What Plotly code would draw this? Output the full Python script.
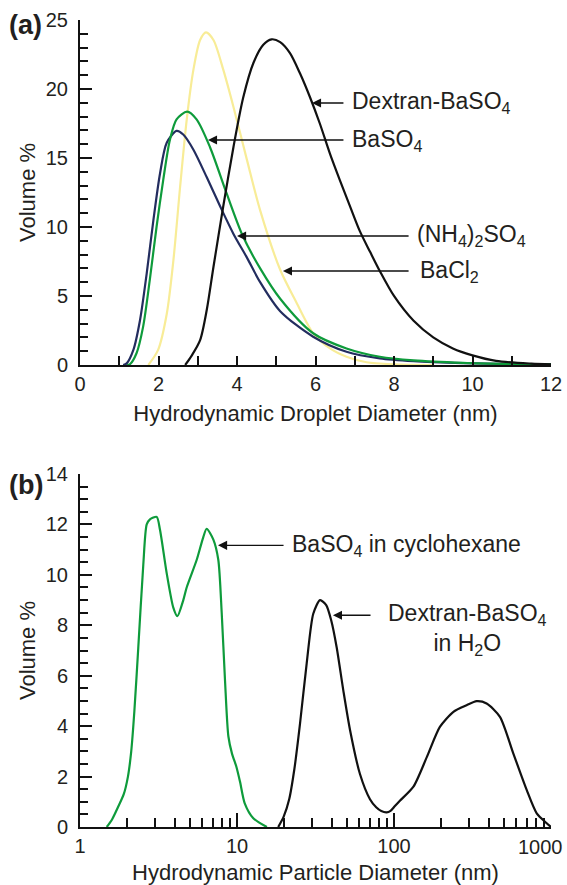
import plotly.graph_objects as go

# ---------------- Panel (a) data ----------------
nh4_x = [1.1, 1.19, 1.36, 1.53, 1.70, 1.87, 2.04, 2.21, 2.46, 2.63, 2.89, 3.23, 3.57, 3.91, 4.25, 4.59, 5.10, 5.94, 6.79, 7.64, 8.5, 9.76, 11.0, 12.0]
nh4_y = [0, 0.12, 1.09, 3.26, 6.64, 10.5, 13.9, 16.1, 16.96, 16.7, 15.6, 13.6, 11.5, 9.5, 7.8, 6.0, 3.9, 2.05, 0.96, 0.48, 0.28, 0.14, 0.07, 0.04]

baso4_x = [1.2, 1.27, 1.44, 1.61, 1.78, 1.95, 2.12, 2.29, 2.46, 2.73, 2.97, 3.31, 3.74, 4.14, 4.59, 5.10, 5.94, 6.79, 7.64, 8.5, 9.76, 11.0, 12.0]
baso4_y = [0, 0.05, 0.85, 2.8, 6.2, 10.0, 13.4, 16.3, 17.8, 18.36, 17.8, 15.8, 12.4, 9.4, 7.0, 4.8, 2.3, 1.2, 0.6, 0.33, 0.15, 0.07, 0.04]

bacl2_x = [1.74, 1.99, 2.21, 2.38, 2.55, 2.72, 2.89, 3.06, 3.21, 3.40, 3.65, 3.91, 4.25, 4.59, 5.10, 5.52, 5.94, 6.37, 6.79, 7.3, 8.0, 9.0]
bacl2_y = [0, 1.1, 3.7, 7.6, 12.9, 17.8, 21.4, 23.55, 24.1, 23.55, 21.4, 18.7, 14.9, 11.2, 6.9, 4.5, 2.3, 1.2, 0.6, 0.2, 0.05, 0]

dex_x = [2.68, 2.85, 3.06, 3.23, 3.40, 3.65, 3.91, 4.16, 4.42, 4.67, 4.88, 5.10, 5.35, 5.61, 5.86, 6.11, 6.37, 6.62, 6.88, 7.13, 7.39, 7.64, 8.0, 8.5, 9.0, 9.5, 10.0, 10.6, 11.5, 12.0]
dex_y = [0, 0.7, 1.8, 4.0, 7.1, 11.5, 15.8, 19.4, 21.9, 23.2, 23.6, 23.4, 22.6, 21.1, 19.4, 17.5, 15.3, 13.4, 11.5, 9.7, 8.2, 6.8, 5.0, 3.2, 2.0, 1.2, 0.7, 0.3, 0.1, 0.05]

# ---------------- Panel (b) data ----------------
cyc_x = [1.48, 1.6, 1.75, 1.9, 2.02, 2.12, 2.22, 2.35, 2.53, 2.66, 2.79, 3.08, 3.23, 3.57, 3.93, 4.17, 4.55, 4.78, 5.54, 6.1, 6.41, 7.07, 7.60, 7.99, 8.39, 8.81, 9.3, 9.9, 10.45, 11.2, 12.7, 15.5]
cyc_y = [0, 0.3, 0.8, 1.3, 2.0, 3.0, 4.6, 7.1, 10.4, 12.0, 12.2, 12.3, 11.8, 10.05, 8.7, 8.36, 9.0, 9.5, 10.6, 11.5, 11.83, 11.4, 10.6, 8.5, 5.8, 3.6, 2.9, 2.4, 1.8, 0.94, 0.35, 0]

h2o_x = [18.3, 19.8, 21.5, 23.2, 25.2, 27.8, 30.6, 33.8, 37.0, 39.8, 43.1, 47.6, 52.5, 60.7, 70.3, 77.0, 83.0, 89.8, 95.0, 101, 109, 133, 162, 196, 239, 290, 336, 389, 473, 575, 700, 811, 939, 1000]
h2o_y = [0, 0.4, 1.1, 2.3, 4.1, 6.5, 8.46, 9.0, 8.8, 8.2, 7.14, 5.4, 3.84, 2.1, 1.1, 0.78, 0.63, 0.58, 0.64, 0.82, 1.04, 1.6, 2.78, 3.97, 4.57, 4.83, 4.99, 4.9, 4.37, 2.92, 1.47, 0.54, 0.15, 0]

xa_ticks = [0, 2, 4, 6, 8, 10, 12]
xb_ticks = [1, 10, 100, 1000]
xb_ticktext = ["1", "10", "100", ""]
xb_last_label = "1000"
xb_minor = [2, 3, 4, 5, 6, 7, 8, 9, 20, 30, 40, 50, 60, 70, 80, 90, 200, 300, 400, 500, 600, 700, 800, 900]

NAVY = "#232d5f"
GREEN = "#0e9b3b"
YELLOW = "#f8ec97"
BLACK = "#111111"
TXT = "#231f20"
FONT = "Liberation Sans, Arial, Helvetica, sans-serif"

fig = go.Figure()
lw = 2.2
fig.add_trace(go.Scatter(x=bacl2_x, y=bacl2_y, mode="lines", line=dict(color=YELLOW, width=lw, shape="spline", smoothing=0.8), xaxis="x", yaxis="y", name="BaCl2"))
fig.add_trace(go.Scatter(x=nh4_x, y=nh4_y, mode="lines", line=dict(color=NAVY, width=lw, shape="spline", smoothing=0.8), xaxis="x", yaxis="y", name="(NH4)2SO4"))
fig.add_trace(go.Scatter(x=baso4_x, y=baso4_y, mode="lines", line=dict(color=GREEN, width=lw, shape="spline", smoothing=0.8), xaxis="x", yaxis="y", name="BaSO4"))
fig.add_trace(go.Scatter(x=dex_x, y=dex_y, mode="lines", line=dict(color=BLACK, width=lw, shape="spline", smoothing=0.8), xaxis="x", yaxis="y", name="Dextran-BaSO4"))
fig.add_trace(go.Scatter(x=cyc_x, y=cyc_y, mode="lines", line=dict(color=GREEN, width=lw, shape="spline", smoothing=0.7), xaxis="x2", yaxis="y2", name="BaSO4 in cyclohexane"))
fig.add_trace(go.Scatter(x=h2o_x, y=h2o_y, mode="lines", line=dict(color=BLACK, width=lw, shape="spline", smoothing=0.7), xaxis="x2", yaxis="y2", name="Dextran-BaSO4 in H2O"))

TF = dict(size=20, color=TXT, family=FONT)
axis_common = dict(showline=True, linewidth=2, linecolor=BLACK, showgrid=False, zeroline=False,
                   ticks="inside", tickcolor=BLACK, tickwidth=1.8, automargin=False,
                   tickfont=TF)

fig.update_layout(
    width=567, height=885,
    margin=dict(l=80, r=16, t=20, b=58),
    paper_bgcolor="white", plot_bgcolor="white",
    showlegend=False,
    font=dict(family=FONT, color=TXT),
    xaxis=dict(axis_common, anchor="y", domain=[0, 1], range=[0, 12], tickvals=xa_ticks, ticklen=9,
               ticklabeloverflow="allow",
               minor=dict(dtick=1, ticks="inside", ticklen=9, tickwidth=1.8, tickcolor=BLACK),
               title=dict(text="Hydrodynamic Droplet Diameter (nm)", font=dict(size=22, color=TXT), standoff=12)),
    yaxis=dict(axis_common, anchor="x", domain=[0.5725, 1.0], range=[0, 25], dtick=5, ticklen=12,
               ticklabelstandoff=6,
               minor=dict(dtick=1, ticks="inside", ticklen=8, tickwidth=1.8, tickcolor=BLACK),
               title=dict(text="Volume %", font=dict(size=22, color=TXT), standoff=4)),
    xaxis2=dict(axis_common, anchor="y2", domain=[0, 1], type="log", range=[0, 3], tickvals=xb_ticks,
                ticktext=xb_ticktext, ticklen=14,
                minor=dict(tickvals=xb_minor, ticks="inside", ticklen=9, tickwidth=1.8, tickcolor=BLACK),
                title=dict(text="Hydrodynamic Particle Diameter (nm)", font=dict(size=22, color=TXT), standoff=12)),
    yaxis2=dict(axis_common, anchor="x2", domain=[0, 0.4374], range=[0, 14], dtick=2, ticklen=12,
                ticklabelstandoff=6,
                minor=dict(dtick=0.5, ticks="inside", ticklen=8, tickwidth=1.8, tickcolor=BLACK),
                title=dict(text="Volume %", font=dict(size=22, color=TXT), standoff=4)),
)

# last log tick label, right-aligned so it stays inside the page
fig.add_annotation(x=1.0297, y=-0.0248, xref="paper", yref="paper", text=xb_last_label, showarrow=False,
                   xanchor="right", yanchor="middle", font=TF)

AF = dict(size=23, color=TXT, family=FONT)
arrow_style = dict(showarrow=True, arrowhead=2, arrowsize=1.3, arrowwidth=1.4, arrowcolor=BLACK, text="", standoff=0, startstandoff=0)

# Panel (a) annotations: (label, text x, arrow y, arrow tail x, arrow tip x)
ann_a = [
    ("Dextran-BaSO<sub>4</sub>", 6.88, 18.99, 6.75, 5.91),
    ("BaSO<sub>4</sub>", 6.88, 16.3, 6.75, 3.26),
    ("(NH<sub>4</sub>)<sub>2</sub>SO<sub>4</sub>", 8.54, 9.35, 8.41, 4.0),
    ("BaCl<sub>2</sub>", 8.61, 6.81, 8.41, 5.17),
]
for txt, tx, y, tail, tip in ann_a:
    fig.add_annotation(x=tx, y=y, xref="x", yref="y", text=txt, showarrow=False, xanchor="left", yanchor="middle", font=AF)
    fig.add_annotation(x=tip, y=y, ax=tail, ay=y, xref="x", yref="y", axref="x", ayref="y", **arrow_style)

# Panel (b) annotations (log axis -> x in log10 units)
fig.add_annotation(x=1.338, y=11.17, xref="x2", yref="y2", text="BaSO<sub>4</sub> in cyclohexane", showarrow=False,
                   xanchor="left", yanchor="middle", font=AF)
fig.add_annotation(x=0.879, y=11.17, ax=1.306, ay=11.17, xref="x2", yref="y2", axref="x2", ayref="y2", **arrow_style)
fig.add_annotation(x=2.471, y=7.84, xref="x2", yref="y2", text="Dextran-BaSO<sub>4</sub><br>in H<sub>2</sub>O", showarrow=False,
                   xanchor="center", yanchor="middle", align="center", font=AF)
fig.add_annotation(x=1.611, y=8.40, ax=1.860, ay=8.40, xref="x2", yref="y2", axref="x2", ayref="y2", **arrow_style)

# Panel labels
fig.add_annotation(x=-0.155, y=0.9938, xref="paper", yref="paper", text="<b>(a)</b>", showarrow=False,
                   xanchor="left", yanchor="middle", font=dict(size=27, color=TXT, family=FONT))
fig.add_annotation(x=-0.155, y=0.4238, xref="paper", yref="paper", text="<b>(b)</b>", showarrow=False,
                   xanchor="left", yanchor="middle", font=dict(size=27, color=TXT, family=FONT))

fig.write_html("out.html", config={"displayModeBar": False},
               post_script="document.body.style.margin='0';document.body.style.overflow='hidden';")
